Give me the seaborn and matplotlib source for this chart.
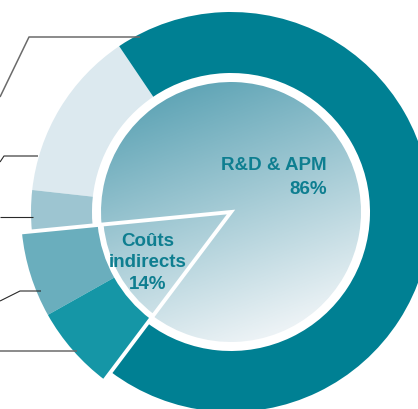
import numpy as np
import matplotlib
matplotlib.use("Agg")
import matplotlib.pyplot as plt
from matplotlib.patches import Wedge
import seaborn as sns

# outer ring, counter-clockwise from the top-left boundary
ring_values = [13.8, 3.3, 6.6, 6.6, 69.7]
ring_colors = ["#dce9ef", "#9dc5d1", "#6aaebd", "#1596a6", "#008093"]
ring_group = ["rd", "rd", "ind", "ind", "rd"]

# inner pie
inner_names = ["Coûts\nindirects", "R&D & APM"]
inner_pct = ["14%", "86%"]
inner_values = [sum(v for v, g in zip(ring_values, ring_group) if g == "ind"),
                sum(v for v, g in zip(ring_values, ring_group) if g == "rd")]

sns.set_style("white")
plt.rcParams['font.family'] = ['Liberation Sans', 'DejaVu Sans']

W, H = 418, 410
fig = plt.figure(figsize=(W / 100, H / 100), dpi=100)
ax = fig.add_axes([0, 0, 1, 1])

cx, cy = 231, H - 213
r_inner = 130

# outer ring
start = 124
ring, _ = ax.pie(ring_values, colors=ring_colors, startangle=start, center=(cx, cy),
                 radius=200, counterclock=True,
                 wedgeprops=dict(width=61, linewidth=0))
for w, g in zip(ring, ring_group):
    if g == "ind":
        w.set_radius(212)
        w.set_width(80)

ind = [w for w, g in zip(ring, ring_group) if g == "ind"]
outline = Wedge((cx, cy), 212, ind[0].theta1, ind[-1].theta2, width=80,
                facecolor="none", edgecolor="white", linewidth=2.8, zorder=4)
ax.add_patch(outline)

# inner pie with a gradient fill
inner, _ = ax.pie(inner_values, startangle=ind[0].theta1, center=(cx, cy),
                  radius=r_inner, counterclock=True,
                  wedgeprops=dict(linewidth=0))
cmap = sns.blend_palette(["#62a6b7", "#edf3f6"], as_cmap=True)
gx, gy = np.meshgrid(np.linspace(-1, 1, 300), np.linspace(-1, 1, 300))
d = np.array([0.35, -0.94])
d = d / np.linalg.norm(d)
grad = (gx * d[0] + gy * d[1] + 1) / 2
for i, w in enumerate(inner):
    im = ax.imshow(grad, cmap=cmap, vmin=0, vmax=1, origin="lower",
                   extent=(cx - r_inner, cx + r_inner, cy - r_inner, cy + r_inner),
                   zorder=2)
    im.set_clip_path(w)
    w.set_facecolor("none")
    w.set_zorder(5)
    if i == 0:
        w.set_edgecolor("white")
        w.set_linewidth(2.8)

# labels
txt = "#0e7e90"
fs = 13.5
ax.text(327, H - 170, inner_names[1], ha="right", va="baseline", fontsize=fs,
        fontweight="bold", color=txt, zorder=6)
ax.text(327, H - 194, inner_pct[1], ha="right", va="baseline", fontsize=fs,
        fontweight="bold", color=txt, zorder=6)
ax.text(148, H - 246, inner_names[0].split("\n")[0], ha="center", va="baseline",
        fontsize=fs, fontweight="bold", color=txt, zorder=6)
ax.text(148, H - 267, inner_names[0].split("\n")[1], ha="center", va="baseline",
        fontsize=fs, fontweight="bold", color=txt, zorder=6)
ax.text(148, H - 289, inner_pct[0], ha="center", va="baseline", fontsize=fs,
        fontweight="bold", color=txt, zorder=6)

# leader lines going off to the left
leaders = [
    ([140, 29, 0], [38, 38, 98], "#6b6b6b", 1.1),
    ([38, 4, 0], [157, 157, 163], "#2a2a2a", 0.8),
    ([33, 0], [218, 218], "#2a2a2a", 0.8),
    ([41, 20, 0], [292, 292, 302], "#2a2a2a", 0.8),
    ([77, 0], [352, 352], "#6b6b6b", 1.1),
]
for xs, ys, c, lw in leaders:
    ax.plot(xs, [H - y for y in ys], color=c, lw=lw, zorder=6,
            solid_capstyle="butt")

ax.set_xlim(0, W)
ax.set_ylim(0, H)
ax.set_aspect("equal")
ax.axis("off")
fig.savefig("out.png", dpi=100)
